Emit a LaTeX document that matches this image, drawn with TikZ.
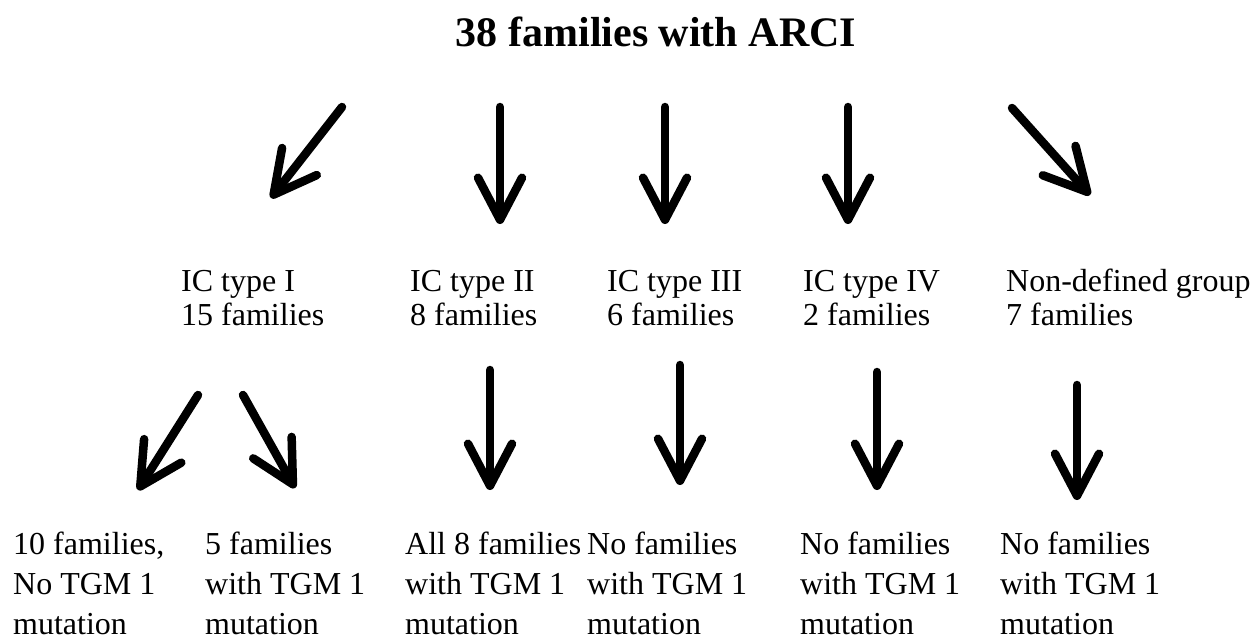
\documentclass[tikz,border=0pt]{standalone}
\usepackage{fontspec}
\setmainfont{Liberation Serif}
\usetikzlibrary{arrows.meta}
\begin{document}
\begin{tikzpicture}[x=1pt,y=-1pt,
  topblock/.style={anchor=base west,inner sep=0pt,align=left,font=\fontsize{32}{34}\selectfont},
  botblock/.style={anchor=base west,inner sep=0pt,align=left,font=\fontsize{32}{40}\selectfont},
  bigarrow/.style={line width=8.5pt,line cap=round,line join=round,-{Straight Barb[length=42pt,width=44pt,line cap=round,line join=round]}}]
\useasboundingbox[fill=white] (0,0) rectangle (1257,641);
\node[anchor=base,inner sep=0pt,font=\fontsize{42}{46}\selectfont\bfseries] (title) at (656,46) {38 families with ARCI};
% top arrows
\coordinate (a1s) at (342,107); \coordinate (a1e) at (271,198);
\coordinate (a2s) at (500,107); \coordinate (a2e) at (500,224);
\coordinate (a3s) at (665,107); \coordinate (a3e) at (665,224);
\coordinate (a4s) at (848,107); \coordinate (a4e) at (848,224);
\coordinate (a5s) at (1012,108); \coordinate (a5e) at (1090,195);
\foreach \i in {1,...,5} \draw[bigarrow] (a\i s) -- (a\i e);
% first row of groups (anchor = baseline of last line)
\node[topblock] (g1) at (181,325) {IC type I\\15 families};
\node[topblock] (g2) at (410,325) {IC type II\\8 families};
\node[topblock] (g3) at (607,325) {IC type III\\6 families};
\node[topblock] (g4) at (803,325) {IC type IV\\2 families};
\node[topblock] (g5) at (1006,325) {Non-defined group\\7 families};
% lower arrows
\coordinate (b1s) at (198,395); \coordinate (b1e) at (138,490);
\coordinate (b2s) at (243,395); \coordinate (b2e) at (295,488);
\coordinate (b3s) at (490,370); \coordinate (b3e) at (490,490);
\coordinate (b4s) at (680,365); \coordinate (b4e) at (680,485);
\coordinate (b5s) at (877,372); \coordinate (b5e) at (877,490);
\coordinate (b6s) at (1077,385); \coordinate (b6e) at (1077,500);
\foreach \i in {1,...,6} \draw[bigarrow] (b\i s) -- (b\i e);
% bottom row (anchor = baseline of last line)
\node[botblock] (r1) at (13,634) {10 families,\\No TGM 1\\mutation};
\node[botblock] (r2) at (205,634) {5 families\\with TGM 1\\mutation};
\node[botblock] (r3) at (405,634) {All 8 families\\with TGM 1\\mutation};
\node[botblock] (r4) at (587,634) {No families\\with TGM 1\\mutation};
\node[botblock] (r5) at (800,634) {No families\\with TGM 1\\mutation};
\node[botblock] (r6) at (1000,634) {No families\\with TGM 1\\mutation};
\end{tikzpicture}
\end{document}
